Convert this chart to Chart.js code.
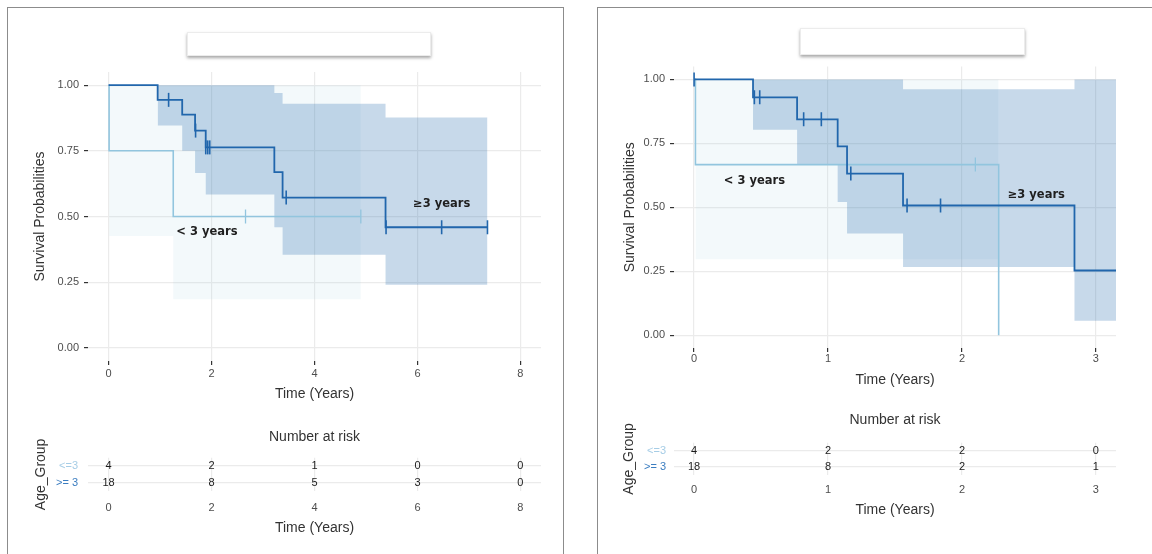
<!DOCTYPE html>
<html>
<head>
<meta charset="utf-8">
<script src="https://cdn.jsdelivr.net/npm/chart.js@4.4.0/dist/chart.umd.min.js"></script>
<style>
  body { margin: 0; background: #fff; width: 1152px; height: 554px; overflow: hidden; position: relative; }
  .panel { position: absolute; border: 1px solid #8c8c8c; }
  .tbox { position: absolute; background: #fff; border: 1px solid #ececec; box-shadow: 0 2px 3px rgba(0,0,0,.35); }
  canvas { position: absolute; }
</style>
</head>
<body>
<div class="panel" style="left:7px;top:7px;width:555px;height:570px"></div>
<div class="panel" style="left:597px;top:7px;width:580px;height:570px"></div>
<div class="tbox" style="left:187px;top:32px;width:242px;height:22px"></div>
<div class="tbox" style="left:800px;top:28px;width:223px;height:25px"></div>

<canvas id="kmLeft" width="530" height="343" style="left:20px;top:60px"></canvas>
<canvas id="riskLeft" width="530" height="112" style="left:20px;top:425px"></canvas>
<canvas id="kmRight" width="516" height="334" style="left:610px;top:55px"></canvas>
<canvas id="riskRight" width="516" height="111" style="left:610px;top:408px"></canvas>

<script>
// ---- left panel: time axis 0..8 years ----
const leftLowTimes = [0, 0.01, 1.256, 4.9];
const leftLowSurv = [1, 0.75, 0.5, 0.5];
const leftLowCensor = [2.66, 4.9];
const leftLowBandTimes = [0.01, 1.256, 4.9];
const leftLowUpper = [1, 1, 1];
const leftLowLower = [0.426, 0.185, 0.185];

const leftHighTimes = [0, 0.953, 1.43, 1.68, 1.887, 3.22, 3.38, 5.38, 7.36];
const leftHighSurv = [1, 0.944, 0.888, 0.827, 0.763, 0.669, 0.572, 0.459, 0.459];
const leftHighCensor = [1.166, 1.69, 1.887, 1.926, 1.965, 3.45, 5.39, 6.47, 7.36];
const leftHighBandTimes = [0.953, 1.43, 1.68, 1.887, 3.22, 3.38, 5.38, 7.36];
const leftHighUpper = [1, 1, 1, 1, 0.970, 0.929, 0.877, 0.877];
const leftHighLower = [0.846, 0.75, 0.666, 0.584, 0.459, 0.354, 0.240, 0.240];

const leftRiskTimes = [0, 2, 4, 6, 8];
const leftRiskLow = [4, 2, 1, 0, 0];
const leftRiskHigh = [18, 8, 5, 3, 0];

// ---- right panel: time axis 0..3 years ----
const rightLowTimes = [0, 0.01, 2.274];
const rightLowSurv = [1, 0.667, 0];
const rightLowCensor = [2.10];
const rightLowBandTimes = [0.01, 2.274];
const rightLowUpper = [1, 1];
const rightLowLower = [0.297, 0.297];

const rightHighTimes = [0, 0.44, 0.769, 1.072, 1.142, 1.56, 2.84, 3.15];
const rightHighSurv = [1, 0.930, 0.844, 0.738, 0.632, 0.507, 0.253, 0.253];
const rightHighCensor = [0, 0.45, 0.49, 0.818, 0.95, 1.17, 1.59, 1.84];
const rightHighBandTimes = [0.44, 0.769, 1.072, 1.142, 1.56, 2.84, 3.15];
const rightHighUpper = [1, 1, 1, 1, 0.961, 1, 1];
const rightHighLower = [0.803, 0.667, 0.521, 0.398, 0.267, 0.057, 0.057];

const rightRiskTimes = [0, 1, 2, 3];
const rightRiskLow = [4, 2, 2, 0];
const rightRiskHigh = [18, 8, 2, 1];

const groupNames = ['<=3', '>= 3'];
const curveLabelsLeft = [
  { text: '< 3 years', x: 1.91, y: 0.44 },
  { text: '\u22653 years', x: 6.47, y: 0.546 }
];
const curveLabelsRight = [
  { text: '< 3 years', x: 0.45, y: 0.604 },
  { text: '\u22653 years', x: 2.555, y: 0.547 }
];

const DARK = '#2166ac';
const LIGHT = '#92c5de';
const SANS = '"Liberation Sans", Arial, sans-serif';

function pts(xs, ys) {
  return xs.map((x, i) => ({ x: x, y: ys[i] }));
}
function survAt(times, surv, t) {
  let s = surv[0];
  for (let i = 0; i < times.length; i++) if (times[i] <= t) s = surv[i];
  return s;
}

const curveText = {
  id: 'curveText',
  afterDatasetsDraw(chart, args, opts) {
    const { ctx, scales } = chart;
    ctx.save();
    ctx.font = 'bold 11.5px "DejaVu Sans"';
    ctx.fillStyle = '#1f1f1f';
    ctx.textAlign = 'center';
    ctx.textBaseline = 'middle';
    (opts.items || []).forEach(it => {
      ctx.fillText(it.text, scales.x.getPixelForValue(it.x), scales.y.getPixelForValue(it.y));
    });
    ctx.restore();
  }
};

const riskNumbers = {
  id: 'riskNumbers',
  afterDatasetsDraw(chart) {
    const ctx = chart.ctx;
    ctx.save();
    ctx.font = '11px ' + SANS;
    ctx.fillStyle = '#1a1a1a';
    ctx.textAlign = 'center';
    ctx.textBaseline = 'middle';
    chart.data.datasets.forEach((ds, i) => {
      chart.getDatasetMeta(i).data.forEach((el, j) => {
        ctx.fillText(String(ds.data[j].n), el.x, el.y);
      });
    });
    ctx.restore();
  }
};

function kmChart(id, d) {
  const lowCens = d.lowCensor.map(t => ({ x: t, y: survAt(d.lowTimes, d.lowSurv, t) }));
  const highCens = d.highCensor.map(t => ({ x: t, y: survAt(d.highTimes, d.highSurv, t) }));
  const step = 'before';
  return new Chart(document.getElementById(id), {
    type: 'line',
    data: {
      datasets: [
        { data: pts(d.lowBandTimes, d.lowUpper), stepped: step, borderWidth: 0, pointRadius: 0,
          fill: '+1', backgroundColor: 'rgba(158,202,225,0.12)', order: 5 },
        { data: pts(d.lowBandTimes, d.lowLower), stepped: step, borderWidth: 0, pointRadius: 0, fill: false, order: 5 },
        { data: pts(d.highBandTimes, d.highUpper), stepped: step, borderWidth: 0, pointRadius: 0,
          fill: '+1', backgroundColor: 'rgba(33,102,172,0.25)', order: 4 },
        { data: pts(d.highBandTimes, d.highLower), stepped: step, borderWidth: 0, pointRadius: 0, fill: false, order: 4 },
        { data: pts(d.lowTimes, d.lowSurv), stepped: step, borderColor: LIGHT, borderWidth: 1.6, pointRadius: 0, fill: false, order: 3 },
        { data: pts(d.highTimes, d.highSurv), stepped: step, borderColor: DARK, borderWidth: 1.8, pointRadius: 0, fill: false, order: 2 },
        { data: lowCens, showLine: false, pointStyle: 'line', pointRotation: 90, pointRadius: 7,
          borderColor: LIGHT, borderWidth: 1.3, order: 1 },
        { data: highCens, showLine: false, pointStyle: 'line', pointRotation: 90, pointRadius: 7,
          borderColor: DARK, borderWidth: 1.6, order: 0 }
      ]
    },
    options: {
      responsive: false,
      animation: false,
      events: [],
      layout: { padding: { top: d.padTop, right: d.padRight, left: 0, bottom: 0 } },
      plugins: { legend: { display: false }, tooltip: { enabled: false }, curveText: { items: d.labels } },
      scales: {
        x: {
          type: 'linear', min: d.xMin, max: d.xMax,
          grid: { color: '#ebebeb', lineWidth: 1.2, tickColor: '#333', tickLength: 4 },
          border: { display: false },
          ticks: { stepSize: d.xStep, includeBounds: false, padding: d.xTickPad, color: '#4d4d4d', font: { family: SANS, size: 11 } },
          title: { display: true, text: 'Time (Years)', color: '#333', font: { family: SANS, size: 14 }, padding: 0 },
          afterFit: s => { s.height = d.xHeight; }
        },
        y: {
          min: -0.05, max: 1.05,
          grid: { color: '#ebebeb', lineWidth: 1.2, tickColor: '#333', tickLength: 4 },
          border: { display: false },
          ticks: { stepSize: 0.25, includeBounds: false, padding: 5, color: '#4d4d4d', font: { family: SANS, size: 11 },
            callback: v => v.toFixed(2) },
          title: { display: true, text: 'Survival Probabilities', color: '#333', font: { family: SANS, size: 14 }, padding: { top: 12, bottom: 0 } },
          afterFit: s => { s.width = d.yWidth; }
        }
      }
    },
    plugins: [curveText]
  });
}

function riskChart(id, d) {
  return new Chart(document.getElementById(id), {
    type: 'line',
    data: {
      datasets: [
        { data: d.times.map((t, i) => ({ x: t, y: groupNames[0], n: d.low[i] })), showLine: false, pointRadius: 0 },
        { data: d.times.map((t, i) => ({ x: t, y: groupNames[1], n: d.high[i] })), showLine: false, pointRadius: 0 }
      ]
    },
    options: {
      responsive: false,
      animation: false,
      events: [],
      layout: { padding: { top: 0, right: d.padRight, left: 0, bottom: 0 } },
      plugins: {
        legend: { display: false }, tooltip: { enabled: false },
        title: { display: true, text: 'Number at risk', fullSize: false, color: '#333',
          font: { family: SANS, size: 14, weight: 'normal' }, padding: { top: d.titleTop, bottom: d.titleBottom } }
      },
      scales: {
        x: {
          type: 'linear', min: d.xMin, max: d.xMax,
          grid: { color: '#ebebeb', lineWidth: 1.2, drawTicks: false },
          border: { display: false },
          ticks: { stepSize: d.xStep, includeBounds: false, padding: d.xTickPad, color: '#4d4d4d', font: { family: SANS, size: 11 } },
          title: { display: true, text: 'Time (Years)', color: '#333', font: { family: SANS, size: 14 }, padding: 0 },
          afterFit: s => { s.height = d.xHeight; }
        },
        y: {
          type: 'category', labels: groupNames, offset: true,
          grid: { color: '#ebebeb', lineWidth: 1.2, drawTicks: false, offset: false },
          border: { display: false },
          ticks: { padding: d.yTickPad, autoSkip: false, font: { family: SANS, size: 11 },
            color: c => (c.index === 0 ? '#a6cde6' : '#3b7dc0') },
          title: { display: true, text: 'Age_Group', color: '#333', font: { family: SANS, size: 14 }, padding: { top: d.yTitlePad, bottom: 0 } },
          afterFit: s => { s.width = d.yWidth; }
        }
      }
    },
    plugins: [riskNumbers]
  });
}

kmChart('kmLeft', {
  lowTimes: leftLowTimes, lowSurv: leftLowSurv, lowCensor: leftLowCensor,
  lowBandTimes: leftLowBandTimes, lowUpper: leftLowUpper, lowLower: leftLowLower,
  highTimes: leftHighTimes, highSurv: leftHighSurv, highCensor: leftHighCensor,
  highBandTimes: leftHighBandTimes, highUpper: leftHighUpper, highLower: leftHighLower,
  labels: curveLabelsLeft,
  xMin: -0.4, xMax: 8.4, xStep: 2, xTickPad: 2, xHeight: 42,
  yWidth: 68, padTop: 12, padRight: 9
});
riskChart('riskLeft', {
  times: leftRiskTimes, low: leftRiskLow, high: leftRiskHigh,
  xMin: -0.4, xMax: 8.4, xStep: 2, xTickPad: 10, xHeight: 46,
  yWidth: 68, padRight: 9, titleTop: 4, titleBottom: 12, yTickPad: 10, yTitlePad: 13
});
kmChart('kmRight', {
  lowTimes: rightLowTimes, lowSurv: rightLowSurv, lowCensor: rightLowCensor,
  lowBandTimes: rightLowBandTimes, lowUpper: rightLowUpper, lowLower: rightLowLower,
  highTimes: rightHighTimes, highSurv: rightHighSurv, highCensor: rightHighCensor,
  highBandTimes: rightHighBandTimes, highUpper: rightHighUpper, highLower: rightHighLower,
  labels: curveLabelsRight,
  xMin: -0.15, xMax: 3.15, xStep: 1, xTickPad: 0, xHeight: 41,
  yWidth: 64, padTop: 11, padRight: 10
});
riskChart('riskRight', {
  times: rightRiskTimes, low: rightRiskLow, high: rightRiskHigh,
  xMin: -0.15, xMax: 3.15, xStep: 1, xTickPad: 8, xHeight: 44,
  yWidth: 64, padRight: 10, titleTop: 4, titleBottom: 14, yTickPad: 8, yTitlePad: 11
});
</script>
</body>
</html>
